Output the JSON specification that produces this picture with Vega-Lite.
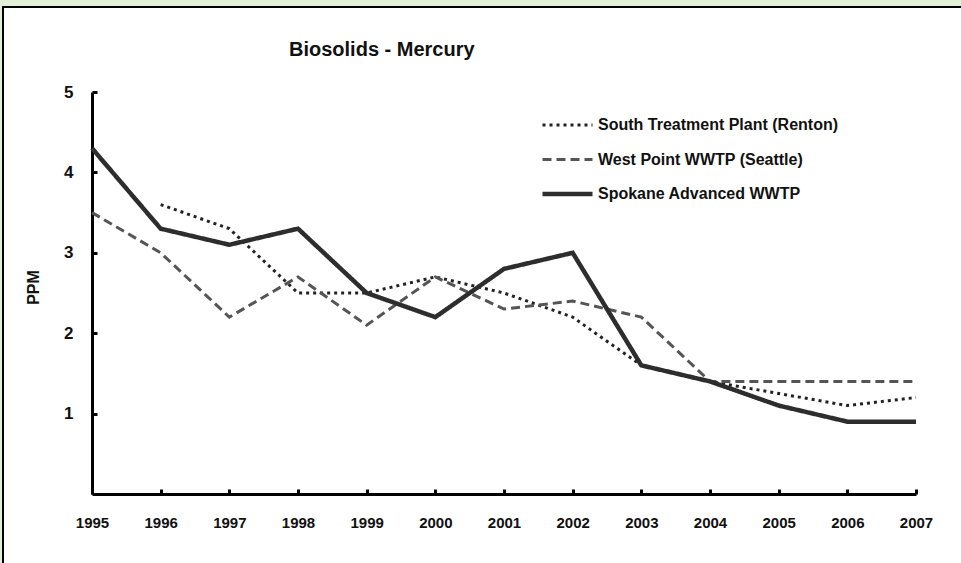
{
  "$schema": "https://vega.github.io/schema/vega-lite/v6.json",
  "width": 961,
  "height": 559,
  "autosize": {"type": "none"},
  "padding": {"left": 3, "top": 7, "right": -3, "bottom": -3},
  "background": "#e2efd9",
  "title": {
    "text": "Biosolids - Mercury",
    "anchor": "start",
    "dx": 286,
    "offset": -69,
    "baseline": "alphabetic",
    "font": "Liberation Sans",
    "fontSize": 20,
    "fontWeight": "bold",
    "color": "#111111"
  },
  "data": {
    "values": [
      {"plant": "South Treatment  Plant (Renton)", "year": 1996, "ppm": 3.6},
      {"plant": "South Treatment  Plant (Renton)", "year": 1997, "ppm": 3.3},
      {"plant": "South Treatment  Plant (Renton)", "year": 1998, "ppm": 2.5},
      {"plant": "South Treatment  Plant (Renton)", "year": 1999, "ppm": 2.5},
      {"plant": "South Treatment  Plant (Renton)", "year": 2000, "ppm": 2.7},
      {"plant": "South Treatment  Plant (Renton)", "year": 2001, "ppm": 2.5},
      {"plant": "South Treatment  Plant (Renton)", "year": 2002, "ppm": 2.2},
      {"plant": "South Treatment  Plant (Renton)", "year": 2003, "ppm": 1.6},
      {"plant": "South Treatment  Plant (Renton)", "year": 2004, "ppm": 1.4},
      {"plant": "South Treatment  Plant (Renton)", "year": 2005, "ppm": 1.25},
      {"plant": "South Treatment  Plant (Renton)", "year": 2006, "ppm": 1.1},
      {"plant": "South Treatment  Plant (Renton)", "year": 2007, "ppm": 1.2},
      {"plant": "West Point WWTP  (Seattle)", "year": 1995, "ppm": 3.5},
      {"plant": "West Point WWTP  (Seattle)", "year": 1996, "ppm": 3.0},
      {"plant": "West Point WWTP  (Seattle)", "year": 1997, "ppm": 2.2},
      {"plant": "West Point WWTP  (Seattle)", "year": 1998, "ppm": 2.7},
      {"plant": "West Point WWTP  (Seattle)", "year": 1999, "ppm": 2.1},
      {"plant": "West Point WWTP  (Seattle)", "year": 2000, "ppm": 2.7},
      {"plant": "West Point WWTP  (Seattle)", "year": 2001, "ppm": 2.3},
      {"plant": "West Point WWTP  (Seattle)", "year": 2002, "ppm": 2.4},
      {"plant": "West Point WWTP  (Seattle)", "year": 2003, "ppm": 2.2},
      {"plant": "West Point WWTP  (Seattle)", "year": 2004, "ppm": 1.4},
      {"plant": "West Point WWTP  (Seattle)", "year": 2005, "ppm": 1.4},
      {"plant": "West Point WWTP  (Seattle)", "year": 2006, "ppm": 1.4},
      {"plant": "West Point WWTP  (Seattle)", "year": 2007, "ppm": 1.4},
      {"plant": "Spokane Advanced  WWTP", "year": 1995, "ppm": 4.3},
      {"plant": "Spokane Advanced  WWTP", "year": 1996, "ppm": 3.3},
      {"plant": "Spokane Advanced  WWTP", "year": 1997, "ppm": 3.1},
      {"plant": "Spokane Advanced  WWTP", "year": 1998, "ppm": 3.3},
      {"plant": "Spokane Advanced  WWTP", "year": 1999, "ppm": 2.5},
      {"plant": "Spokane Advanced  WWTP", "year": 2000, "ppm": 2.2},
      {"plant": "Spokane Advanced  WWTP", "year": 2001, "ppm": 2.8},
      {"plant": "Spokane Advanced  WWTP", "year": 2002, "ppm": 3.0},
      {"plant": "Spokane Advanced  WWTP", "year": 2003, "ppm": 1.6},
      {"plant": "Spokane Advanced  WWTP", "year": 2004, "ppm": 1.4},
      {"plant": "Spokane Advanced  WWTP", "year": 2005, "ppm": 1.1},
      {"plant": "Spokane Advanced  WWTP", "year": 2006, "ppm": 0.9},
      {"plant": "Spokane Advanced  WWTP", "year": 2007, "ppm": 0.9}
    ]
  },
  "mark": {"type": "line", "clip": false, "strokeCap": "butt"},
  "encoding": {
    "x": {
      "field": "year",
      "type": "quantitative",
      "scale": {"domain": [1995, 2007], "range": [89, 913], "zero": false, "nice": false},
      "axis": {
        "values": [1995, 1996, 1997, 1998, 1999, 2000, 2001, 2002, 2003, 2004, 2005, 2006, 2007],
        "format": "d",
        "title": null,
        "grid": false,
        "offset": -72,
        "domainColor": "#000000",
        "domainWidth": 3,
        "tickColor": "#000000",
        "tickWidth": 3,
        "tickSize": -5,
        "labelFont": "Liberation Sans",
        "labelFontWeight": "bold",
        "labelFontSize": 15,
        "labelColor": "#111111",
        "labelPadding": 26,
        "labelFlush": false,
        "labelOverlap": false
      }
    },
    "y": {
      "field": "ppm",
      "type": "quantitative",
      "scale": {"domain": [0, 5], "range": [487, 85], "nice": false},
      "axis": {
        "values": [1, 2, 3, 4, 5],
        "title": "PPM",
        "grid": false,
        "offset": -89,
        "domainColor": "#000000",
        "domainWidth": 3,
        "tickColor": "#000000",
        "tickWidth": 3,
        "tickSize": -5,
        "labelFont": "Liberation Sans",
        "labelFontWeight": "bold",
        "labelFontSize": 17,
        "labelColor": "#111111",
        "labelPadding": 24,
        "titleFont": "Liberation Sans",
        "titleFontWeight": "bold",
        "titleFontSize": 16,
        "titleColor": "#111111",
        "titleX": -51,
        "titleY": 280,
        "titleBaseline": "bottom"
      }
    },
    "color": {
      "field": "plant",
      "type": "nominal",
      "scale": {
        "domain": ["South Treatment  Plant (Renton)", "West Point WWTP  (Seattle)", "Spokane Advanced  WWTP"],
        "range": ["#222222", "#555555", "#2d2d2d"]
      },
      "legend": {
        "orient": "none",
        "legendX": 537,
        "legendY": 108,
        "title": null,
        "symbolType": "stroke",
        "symbolSize": 2500,
        "clipHeight": 20,
        "rowPadding": 14.5,
        "padding": 0,
        "labelFont": "Liberation Sans",
        "labelFontWeight": "bold",
        "labelFontSize": 16,
        "labelColor": "#111111",
        "labelOffset": 3,
        "labelLimit": 400
      }
    },
    "strokeDash": {
      "field": "plant",
      "type": "nominal",
      "scale": {
        "domain": ["South Treatment  Plant (Renton)", "West Point WWTP  (Seattle)", "Spokane Advanced  WWTP"],
        "range": [[3, 4], [9, 5], [1, 0]]
      }
    },
    "strokeWidth": {
      "field": "plant",
      "type": "nominal",
      "scale": {
        "type": "ordinal",
        "domain": ["South Treatment  Plant (Renton)", "West Point WWTP  (Seattle)", "Spokane Advanced  WWTP"],
        "range": [3, 3, 4.5]
      }
    }
  },
  "config": {
    "view": {"fill": "white", "stroke": "#000000", "strokeWidth": 2}
  }
}
